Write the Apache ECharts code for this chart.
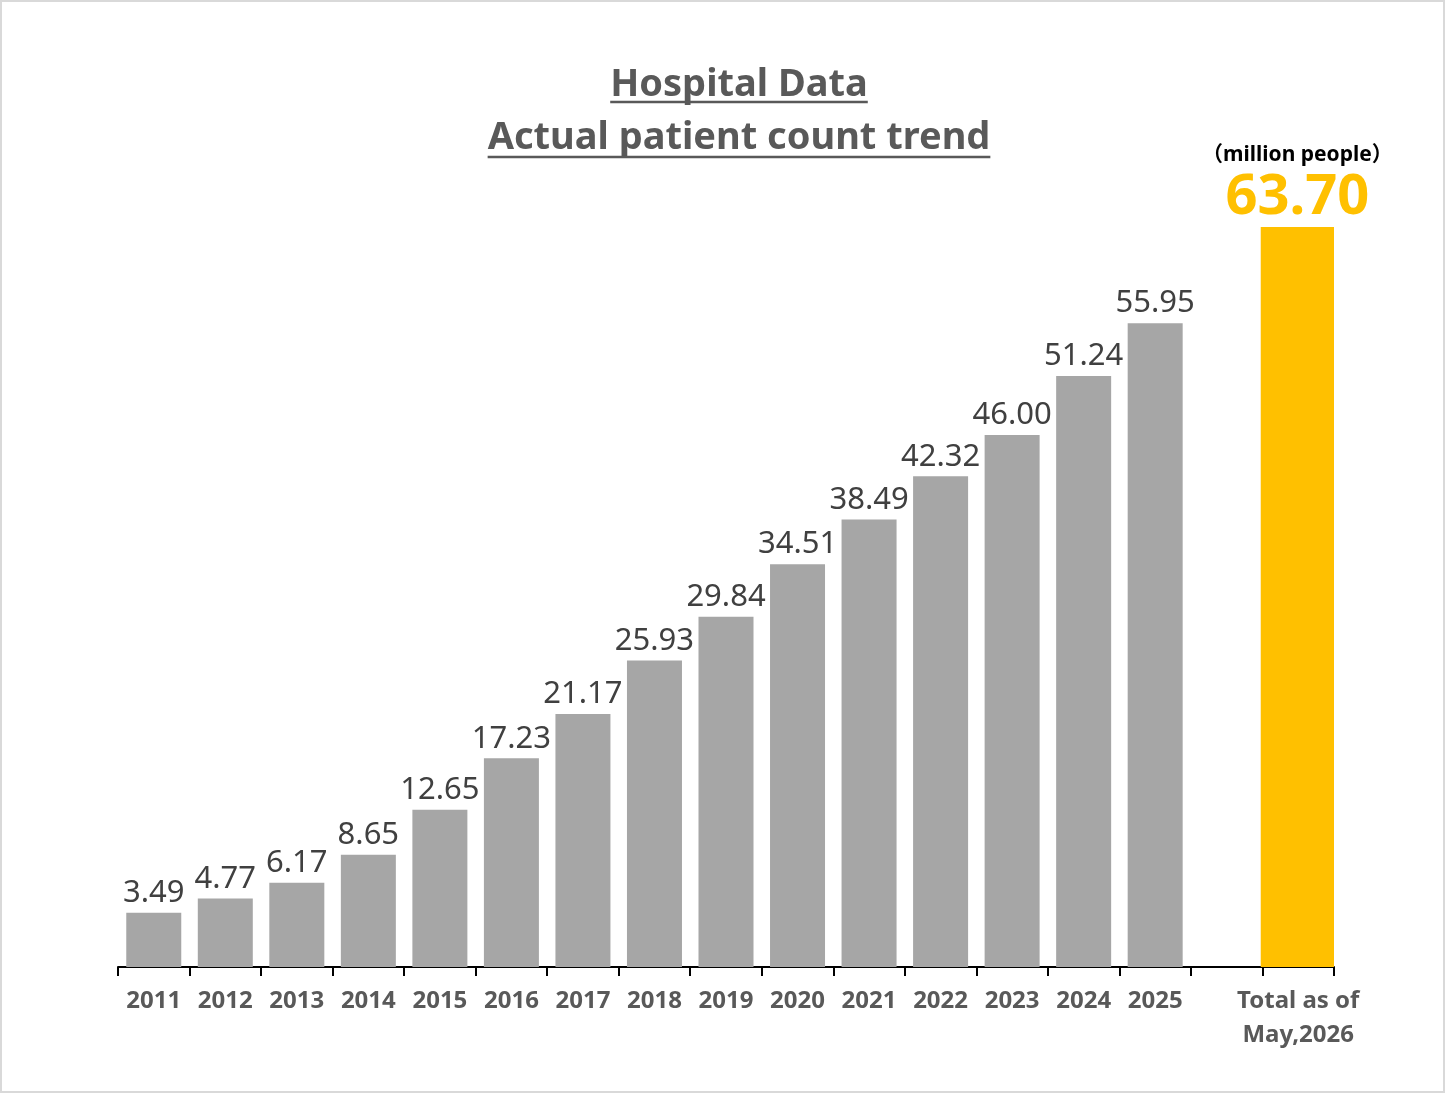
<!DOCTYPE html>
<html lang="en">
<head>
    <meta charset="UTF-8">
    <title>Hospital Data</title>
    <script src="https://cdn.jsdelivr.net/npm/echarts@6/dist/echarts.min.js"></script>
    <style>
        html, body { margin: 0; padding: 0; background: #fff; }
        #main { width: 1448px; height: 1096px; }
    </style>
</head>
<body>
<div id="main"></div>
<script>
    // data
    const years = ['2011', '2012', '2013', '2014', '2015', '2016', '2017', '2018',
        '2019', '2020', '2021', '2022', '2023', '2024', '2025'];
    const patients = [3.49, 4.77, 6.17, 8.65, 12.65, 17.23, 21.17, 25.93,
        29.84, 34.51, 38.49, 42.32, 46.00, 51.24, 55.95];
    const totalLabel = 'Total as of\nMay,2026';
    const totalValue = 63.70;
    const titleLines = ['Hospital Data', 'Actual patient count trend'];
    const unitText = '（million people）';

    // one empty slot between the years and the total
    const categories = years.concat(['', totalLabel]);
    const greyData = patients.concat([null, null]);
    const totalData = years.map(() => null).concat([null, totalValue]);

    const titleFont = '"Noto Sans", sans-serif';
    const titleSize = 38;
    const titleX = 739;
    const titleY = [85, 138];
    const underlineY = [102, 157];

    // measure the title so the underline fits the text
    let ctx = document.createElement('canvas').getContext('2d');
    ctx.font = 'bold ' + titleSize + 'px "Noto Sans"';
    let graphics = [{
        type: 'rect',
        shape: {x: 1, y: 1, width: 1443, height: 1091},
        style: {fill: 'none', stroke: '#d9d9d9', lineWidth: 2},
        silent: true
    }];
    titleLines.forEach((t, i) => {
        let w = ctx.measureText(t).width;
        graphics.push({
            type: 'text',
            x: titleX,
            y: titleY[i],
            style: {
                text: t,
                fill: '#595959',
                font: 'bold ' + titleSize + 'px ' + titleFont,
                textAlign: 'center',
                textVerticalAlign: 'middle'
            }
        });
        graphics.push({
            type: 'line',
            shape: {x1: titleX - w / 2, y1: underlineY[i], x2: titleX + w / 2, y2: underlineY[i]},
            style: {stroke: '#595959', lineWidth: 2.5}
        });
    });

    let myChart = echarts.init(document.getElementById('main'));
    let option = {
        backgroundColor: '#fff',
        animation: false,
        textStyle: {fontFamily: titleFont},
        graphic: graphics,
        grid: {
            left: 118,
            right: 114,
            top: 109,
            bottom: 129,
            containLabel: false,
            outerBoundsMode: 'none'
        },
        xAxis: [
            {
                type: 'category',
                data: categories,
                axisLine: {onZero: false, lineStyle: {color: '#000', width: 2}},
                axisTick: {show: true, length: 9, alignWithLabel: false, interval: 0,
                    lineStyle: {color: '#000', width: 2}},
                axisLabel: {
                    interval: 0,
                    color: '#595959',
                    fontWeight: 'bold',
                    fontSize: 24,
                    lineHeight: 34,
                    margin: 17,
                    fontFamily: titleFont
                },
                splitLine: {show: false}
            },
            {
                type: 'category',
                data: categories,
                show: false
            }
        ],
        yAxis: [
            {
                type: 'value',
                min: -1.33,
                max: 75,
                startValue: -1.33,
                show: false,
                splitLine: {show: false}
            },
            {
                type: 'value',
                min: 0,
                max: 73.86,
                show: false,
                splitLine: {show: false}
            }
        ],
        series: [
            {
                name: 'patients',
                type: 'bar',
                xAxisIndex: 0,
                yAxisIndex: 0,
                barWidth: 55,
                data: greyData,
                itemStyle: {color: '#a6a6a6'},
                label: {
                    show: true,
                    position: 'top',
                    distance: 4,
                    color: '#404040',
                    fontSize: 31,
                    fontFamily: titleFont,
                    formatter: p => p.value == null ? '' : p.value.toFixed(2)
                }
            },
            {
                name: 'total',
                type: 'bar',
                xAxisIndex: 1,
                yAxisIndex: 1,
                barWidth: 75,
                data: totalData,
                itemStyle: {color: '#ffc000'},
                label: {
                    show: true,
                    position: 'top',
                    distance: 0,
                    formatter: p => p.value == null ? '' : '{u|' + unitText + '}\n{v|' + p.value.toFixed(2) + '}',
                    rich: {
                        u: {
                            fontSize: 21,
                            fontWeight: 'bold',
                            color: '#000',
                            lineHeight: 28,
                            fontFamily: '"Noto Sans", "Noto Sans CJK JP", sans-serif'
                        },
                        v: {
                            fontSize: 56,
                            fontWeight: 'bold',
                            color: '#ffc000',
                            lineHeight: 58,
                            fontFamily: titleFont
                        }
                    }
                }
            }
        ]
    };
    myChart.setOption(option);
    window.addEventListener('resize', function () {
        myChart.resize();
    });
</script>
</body>
</html>
